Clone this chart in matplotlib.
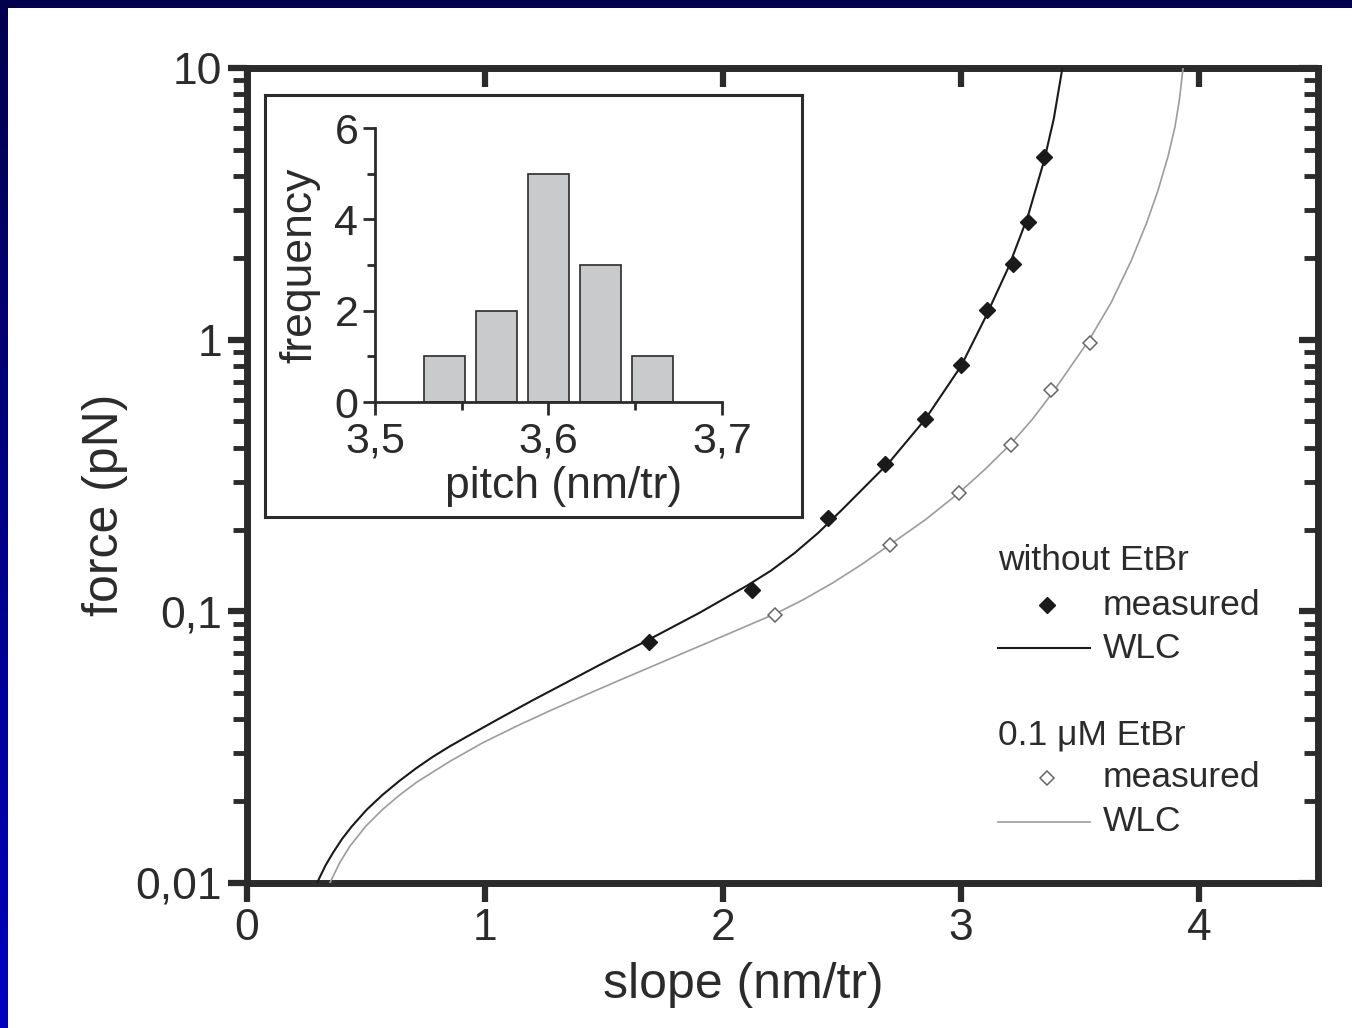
import numpy as np
import matplotlib
matplotlib.use("Agg")
import matplotlib.pyplot as plt
from matplotlib.patches import Rectangle
from matplotlib.ticker import FixedLocator, LogLocator, NullFormatter

plt.rcParams['font.family'] = ['Liberation Sans', 'DejaVu Sans']

# measured slope (nm/tr) vs force (pN), no EtBr
slope_noetbr = [1.69, 2.12, 2.44, 2.68, 2.85, 3.00, 3.11, 3.22, 3.28, 3.35]
force_noetbr = [0.077, 0.12, 0.22, 0.35, 0.51, 0.81, 1.29, 1.9, 2.7, 4.7]

# measured with 0.1 uM EtBr
slope_etbr = [2.22, 2.70, 2.99, 3.21, 3.38, 3.54]
force_etbr = [0.097, 0.175, 0.273, 0.41, 0.653, 0.973]

# WLC fit curves
wlc_slope_noetbr = [0.294, 0.330, 0.361, 0.400, 0.440, 0.503, 0.570, 0.642, 0.710, 0.780,
                    0.850, 0.922, 1.061, 1.199, 1.342, 1.480, 1.660, 1.900, 2.100, 2.200,
                    2.300, 2.400, 2.500, 2.700, 2.850, 3.000, 3.100, 3.200, 3.280, 3.350,
                    3.390, 3.426]
wlc_force_noetbr = [0.0100, 0.01161, 0.01291, 0.01455, 0.01614, 0.01862, 0.02113, 0.02382, 0.02642, 0.02911,
                    0.03177, 0.03451, 0.04036, 0.04699, 0.05470, 0.06339, 0.07638, 0.09863, 0.1242, 0.1409,
                    0.1637, 0.1945, 0.2366, 0.3548, 0.5098, 0.7991, 1.195, 1.851, 2.828, 4.586,
                    6.51, 10.0]
wlc_slope_etbr = [0.348, 0.390, 0.432, 0.500, 0.570, 0.640, 0.713, 0.851, 0.990, 1.132,
                  1.270, 1.409, 1.551, 1.690, 1.950, 2.222, 2.340, 2.460, 2.580, 2.704,
                  2.850, 2.990, 3.100, 3.208, 3.300, 3.384, 3.460, 3.539, 3.630, 3.715,
                  3.780, 3.828, 3.870, 3.899, 3.918, 3.933]
wlc_force_etbr = [0.0100, 0.01189, 0.01365, 0.01622, 0.01866, 0.02104, 0.02350, 0.02799, 0.03281, 0.03776,
                  0.04295, 0.04864, 0.05508, 0.06209, 0.07762, 0.09817, 0.1107, 0.1271, 0.1483, 0.1766,
                  0.2173, 0.2723, 0.3327, 0.4121, 0.5093, 0.6368, 0.7943, 1.000, 1.365, 1.950,
                  2.692, 3.548, 4.732, 6.067, 7.674, 10.0]

# histogram of pitch values (inset)
pitch_centers = [3.540, 3.570, 3.600, 3.630, 3.660]
pitch_counts = [1, 2, 5, 3, 1]
pitch_width = 0.024

ink = '#2b2b2b'
grey = '#9c9c9c'

W, H = 1352, 1028
fig = plt.figure(figsize=(W / 100, H / 100), dpi=100)

# blue frame behind everything
bg = fig.add_axes([0, 0, 1, 1], zorder=-10)
t = np.linspace(0, 1, 256)[:, None]
grad = np.zeros((256, 2, 3))
grad[..., 2] = (0.30 + 0.45 * t) * np.ones((1, 2))
bg.imshow(grad, aspect='auto', extent=[0, 1, 0, 1], origin='upper')
bg.add_patch(Rectangle((8 / W, 0), 1, 1 - 8 / H, facecolor='white', edgecolor='none'))
bg.set_xlim(0, 1)
bg.set_ylim(0, 1)
bg.axis('off')

# main plot
ax = fig.add_axes([247 / W, (H - 883) / H, 1071 / W, 815 / H])
ax.plot(wlc_slope_noetbr, wlc_force_noetbr, color='#1a1a1a', lw=1.5, zorder=3,
        solid_joinstyle='round')
ax.plot(wlc_slope_etbr, wlc_force_etbr, color=grey, lw=1.2, zorder=3,
        solid_joinstyle='round')
ax.plot(slope_noetbr, force_noetbr, 'D', ms=8, color='#1a1a1a', mec='#1a1a1a', zorder=4)
ax.plot(slope_etbr, force_etbr, 'D', ms=7.5, mfc='white', mec='#666666', mew=1.1, zorder=4)

ax.set_yscale('log')
ax.set_xlim(0, 4.5)
ax.set_ylim(0.01, 10)
ax.set_xticks([0, 1, 2, 3, 4])
ax.set_yticks([0.01, 0.1, 1, 10])
ax.set_yticklabels(['0,01', '0,1', '1', '10'])
ax.yaxis.set_minor_locator(LogLocator(base=10, subs=np.arange(2, 10)))
ax.yaxis.set_minor_formatter(NullFormatter())
for s in ax.spines.values():
    s.set_linewidth(5)
    s.set_color(ink)
    s.set_capstyle('projecting')
ax.tick_params(which='major', length=14, width=4.5, color=ink, labelcolor=ink,
               labelsize=32, direction='out', pad=4)
ax.tick_params(which='minor', length=10, width=3.5, color=ink, direction='out')
ax.tick_params(which='both', top=True, right=True)
# inward ticks on top and right
for tk in ax.xaxis.get_major_ticks():
    tk.tick2line.set_marker(3)
    tk.tick2line.set_markersize(14)
for tk in ax.yaxis.get_major_ticks() + ax.yaxis.get_minor_ticks():
    tk.tick2line.set_marker(matplotlib.lines.TICKLEFT)

ax.set_xlabel('slope (nm/tr)', fontsize=36, color=ink, va='center', ha='center')
ax.set_ylabel('force (pN)', fontsize=36, color=ink, va='center', ha='center')
ax.xaxis.set_label_coords(0.463, -0.125)
ax.yaxis.set_label_coords(-0.133, 0.464)

# legend block
fs = 25.5
ax.text(0.701, 0.396, 'without EtBr', transform=ax.transAxes, fontsize=fs, color=ink, va='center')
ax.plot([0.747], [0.341], 'D', ms=8, color='#1a1a1a', transform=ax.transAxes, clip_on=False)
ax.text(0.799, 0.341, 'measured', transform=ax.transAxes, fontsize=fs, color=ink, va='center')
ax.plot([0.701, 0.787], [0.288, 0.288], color='#1a1a1a', lw=1.5, transform=ax.transAxes)
ax.text(0.799, 0.288, 'WLC', transform=ax.transAxes, fontsize=fs, color=ink, va='center')
ax.text(0.701, 0.182, '0.1 μM EtBr', transform=ax.transAxes, fontsize=fs, color=ink, va='center')
ax.plot([0.747], [0.129], 'D', ms=7.5, mfc='white', mec='#666666', mew=1.1, transform=ax.transAxes)
ax.text(0.799, 0.129, 'measured', transform=ax.transAxes, fontsize=fs, color=ink, va='center')
ax.plot([0.701, 0.787], [0.075, 0.075], color=grey, lw=1.2, transform=ax.transAxes)
ax.text(0.799, 0.075, 'WLC', transform=ax.transAxes, fontsize=fs, color=ink, va='center')

# inset frame
frame = fig.add_axes([265 / W, (H - 517) / H, 537 / W, 422 / H], zorder=5)
frame.set_xticks([])
frame.set_yticks([])
for s in frame.spines.values():
    s.set_linewidth(2.2)
    s.set_color(ink)

# inset histogram
ins = fig.add_axes([375 / W, (H - 402) / H, 347 / W, 274 / H], zorder=6)
ins.patch.set_alpha(0)
ins.bar(pitch_centers, pitch_counts, width=pitch_width, color='#c9cacc',
        edgecolor=ink, linewidth=1.2)
ins.set_xlim(3.5, 3.7)
ins.set_ylim(0, 6)
ins.set_xticks([3.5, 3.6, 3.7])
ins.set_xticklabels(['3,5', '3,6', '3,7'])
ins.xaxis.set_minor_locator(FixedLocator([3.55, 3.65]))
ins.set_yticks([0, 2, 4, 6])
ins.yaxis.set_minor_locator(FixedLocator([1, 3, 5]))
ins.spines['top'].set_visible(False)
ins.spines['right'].set_visible(False)
for s in ('left', 'bottom'):
    ins.spines[s].set_linewidth(2)
    ins.spines[s].set_color(ink)
ins.tick_params(which='major', length=9, width=2, color=ink, labelcolor=ink,
                labelsize=31, pad=3)
ins.tick_params(axis='x', which='major', pad=5)
ins.tick_params(which='minor', length=6, width=2, color=ink)
ins.set_xlabel('pitch (nm/tr)', fontsize=32, color=ink, va='center', ha='center')
ins.set_ylabel('frequency', fontsize=32, color=ink, va='center', ha='center')
ins.xaxis.set_label_coords(0.542, -0.31)
ins.yaxis.set_label_coords(-0.216, 0.5)

fig.savefig('out.png', dpi=100, facecolor='white')
